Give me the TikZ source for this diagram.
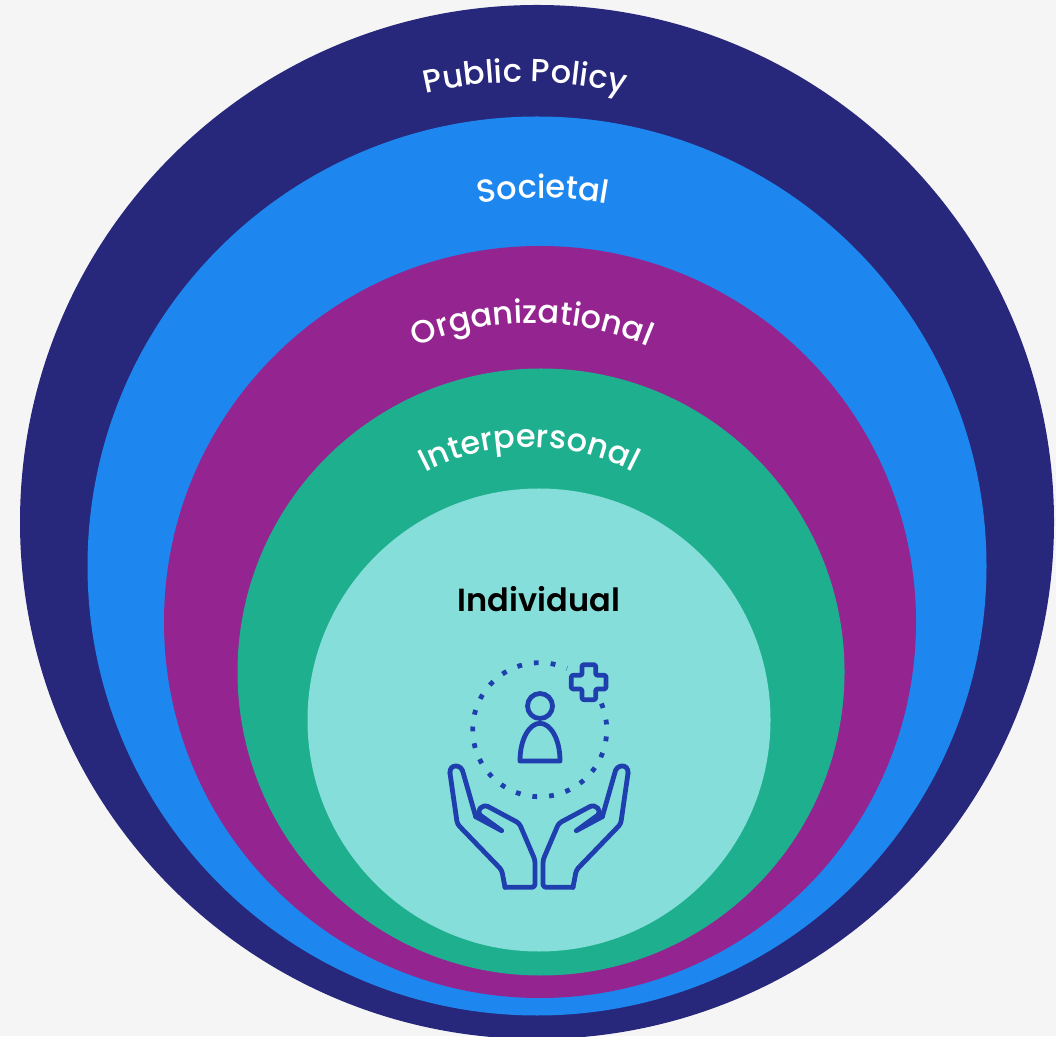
\documentclass[tikz,border=0pt]{standalone}
\usepackage{fontspec}
\setmainfont{Poppins Medium}
\newfontfamily\indivfont{Poppins SemiBold}
\usetikzlibrary{decorations.text}
\definecolor{policyblue}{HTML}{27277B}
\definecolor{societalblue}{HTML}{1D87EF}
\definecolor{orgpurple}{HTML}{94248F}
\definecolor{interpgreen}{HTML}{1EB08E}
\definecolor{indivcyan}{HTML}{86DEDA}
\definecolor{iconblue}{HTML}{1F3FAE}
\newcommand{\ringfont}{\fontsize{32}{32}\selectfont}
\tikzset{
    % Rings and the curved labels that sit on them
    ring/.style={circle,inner sep=0,draw=none},
    ring label/.style={decorate,decoration={text along path,text align=center,text color=white,text={|\ringfont|#1}}},
    icon line/.style={draw=iconblue,line width=4.8pt,line join=round,line cap=round}
}
\begin{document}
\begin{tikzpicture}[x=1pt,y=1pt,font=\ringfont]
    \useasboundingbox (0,0) rectangle (1056,1036);
    \fill[black!4] (0,0) rectangle (1056,1036);
    % The rings
    \node(policy)[ring,fill=policyblue,minimum size=1034pt] at (537,514) {};
    \node(societal)[ring,fill=societalblue,minimum size=899pt] at (537,470) {};
    \node(org)[ring,fill=orgpurple,minimum size=752pt] at (540,414) {};
    \node(interp)[ring,fill=interpgreen,minimum size=607pt] at (541,364) {};
    \node(indiv)[ring,fill=indivcyan,minimum size=463pt] at (539,316) {};
    % Curved labels
    \path[ring label={Public Policy}] ([shift={(125:440)}]525,514) arc (125:55:440);
    \path[ring label={Societal}] ([shift={(125:368)}]543,470) arc (125:55:368);
    \path[ring label={Organizational}] ([shift={(130:300)}]532,413) arc (130:50:300);
    \path[ring label={Interpersonal}] ([shift={(140:225)}]529,364) arc (140:40:225);
    \node(indivlabel)[text=black,inner sep=0,font=\indivfont\fontsize{32}{32}\selectfont] at (539,437) {Individual};
    % Dots round the person
    \draw[iconblue,line width=4.8pt,dash pattern=on 4.8pt off 12.04pt] ([shift={(23:67)}]539.7,306.3) arc (23:-294:67);
    % The icon, in coordinates that run down the page
    \begin{scope}[shift={(0,1036)},yscale=-1]
        \node(head)[circle,icon line,inner sep=0,minimum size=25pt] at (540,706) {};
        \draw[icon line] (520,761) .. controls (520,738) and (530,723.3) .. (540,723.3) .. controls (550,723.3) and (560,738) .. (560,761) -- cycle;
        \draw[icon line,rounded corners=2pt] (582,664.7) -- (595.7,664.7) -- (595.7,675.3) -- (606,675.3) -- (606,689) -- (595.7,689) -- (595.7,699.7) -- (582,699.7) -- (582,689) -- (571.3,689) -- (571.3,675.3) -- (582,675.3) -- cycle;
        % Both hands, the second one mirrored
        \foreach \side in {1,-1}{
        \begin{scope}[shift={(539,0)},xscale=\side]
            \draw[icon line,rounded corners=3pt] (-34,887.3) -- (-4,887.3) -- (-4,860) -- (-19.7,823.3) -- (-50.7,806.7);
            \draw[icon line] (-50.7,806.7) .. controls (-57,803.5) and (-63,811) .. (-59,815) -- (-37.3,830.7) -- (-63.3,816.7);
            \draw[icon line,rounded corners=3pt] (-34,887.3) -- (-37.3,870) -- (-81.7,824) -- (-89,773.3);
            \draw[icon line] (-89,773.3) .. controls (-90,763.5) and (-77,763.5) .. (-75.7,773.3) -- (-63.3,816.7);
        \end{scope}
        }
    \end{scope}
\end{tikzpicture}
\end{document}
